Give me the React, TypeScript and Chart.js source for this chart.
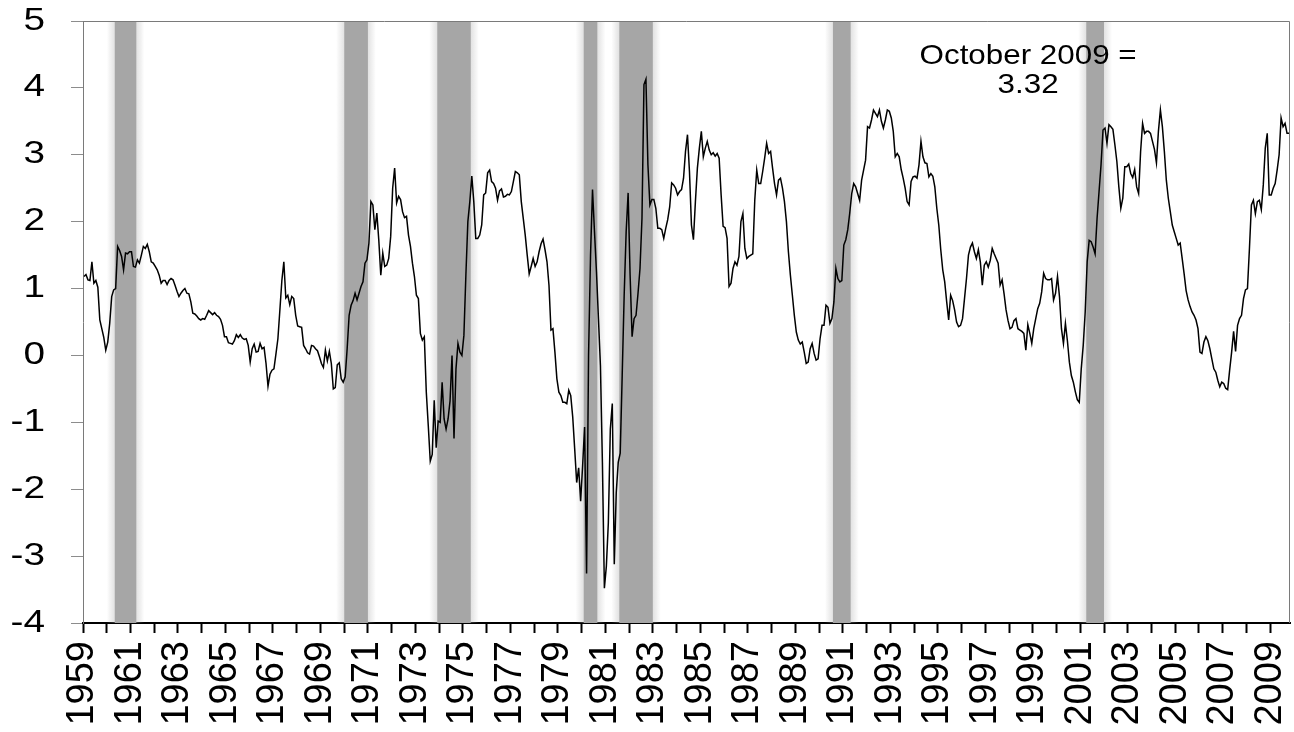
import React, { useEffect, useRef } from 'react';
import { Chart, registerables } from 'chart.js';

Chart.register(...registerables);

// ---------------- data ----------------
const FIRST_YEAR = 1959;

// Monthly spread (percentage points), Jan 1959 .. Oct 2009
const spread1959 = [1.18, 1.21, 1.13, 1.12, 1.40, 1.08, 1.12, 1.02, 0.53, 0.40, 0.27, 0.08];

const spread1960s = [
  0.20, 0.48, 0.88, 0.98, 1.00, 1.63, 1.57, 1.48, 1.28, 1.53, 1.52, 1.55, // 1960
  1.55, 1.33, 1.32, 1.43, 1.38, 1.50, 1.63, 1.60, 1.66, 1.55, 1.40, 1.38, // 1961
  1.33, 1.28, 1.20, 1.08, 1.12, 1.12, 1.06, 1.12, 1.15, 1.13, 1.05, 0.96, // 1962
  0.88, 0.93, 0.97, 1.00, 0.93, 0.92, 0.80, 0.63, 0.62, 0.59, 0.55, 0.53, // 1963
  0.55, 0.54, 0.60, 0.67, 0.64, 0.61, 0.64, 0.60, 0.58, 0.54, 0.45, 0.28, // 1964
  0.28, 0.19, 0.18, 0.17, 0.22, 0.31, 0.27, 0.31, 0.26, 0.24, 0.25, 0.15, // 1965
  -0.10, 0.10, 0.17, 0.05, 0.06, 0.18, 0.10, 0.12, -0.12, -0.46, -0.28, -0.22, // 1966
  -0.20, 0.02, 0.25, 0.68, 1.12, 1.40, 0.86, 0.90, 0.76, 0.88, 0.85, 0.60, // 1967
  0.44, 0.43, 0.42, 0.15, 0.10, 0.04, 0.02, 0.15, 0.14, 0.10, 0.07, -0.02, // 1968
  -0.12, -0.18, 0.08, -0.08, 0.06, -0.12, -0.50, -0.48, -0.14, -0.11, -0.35, -0.40, // 1969
];

const spread1970s = [
  -0.32, 0.10, 0.60, 0.75, 0.82, 0.93, 0.83, 0.93, 1.03, 1.10, 1.38, 1.43, // 1970
  1.68, 2.30, 2.25, 1.88, 2.13, 1.72, 1.20, 1.53, 1.33, 1.35, 1.45, 1.78, // 1971
  2.50, 2.80, 2.28, 2.38, 2.33, 2.15, 2.06, 2.08, 1.80, 1.63, 1.38, 1.18, // 1972
  0.90, 0.85, 0.33, 0.23, 0.28, -0.55, -1.05, -1.58, -1.48, -0.67, -1.38, -0.98, // 1973
  -1.00, -0.40, -0.95, -1.10, -0.95, -0.68, 0.00, -1.24, -0.20, 0.18, 0.05, 0.00, // 1974
  0.30, 1.20, 2.00, 2.30, 2.68, 2.30, 1.75, 1.75, 1.80, 1.95, 2.40, 2.43, // 1975
  2.73, 2.77, 2.60, 2.57, 2.50, 2.32, 2.46, 2.49, 2.37, 2.38, 2.41, 2.40, // 1976
  2.45, 2.60, 2.75, 2.73, 2.70, 2.30, 2.05, 1.80, 1.50, 1.22, 1.33, 1.45, // 1977
  1.33, 1.40, 1.55, 1.67, 1.74, 1.58, 1.40, 1.05, 0.38, 0.40, 0.05, -0.35, // 1978
  -0.55, -0.60, -0.70, -0.70, -0.72, -0.52, -0.60, -0.92, -1.40, -1.90, -1.68, -2.18, // 1979
];

const spread1980s = [
  -1.65, -1.07, -3.26, 0.00, 1.50, 2.48, 1.85, 1.25, 0.55, -0.15, -1.60, -3.48, // 1980
  -3.15, -2.50, -1.10, -0.72, -3.12, -2.05, -1.60, -1.46, -0.30, 0.90, 1.85, 2.43, // 1981
  1.20, 0.28, 0.55, 0.60, 0.93, 1.30, 2.05, 4.05, 4.13, 2.85, 2.25, 2.33, // 1982
  2.33, 2.20, 1.90, 1.90, 1.88, 1.75, 1.90, 2.03, 2.22, 2.58, 2.55, 2.50, // 1983
  2.40, 2.45, 2.48, 2.65, 3.05, 3.30, 2.75, 1.95, 1.73, 2.30, 2.80, 3.10, // 1984
  3.35, 2.97, 3.10, 3.20, 3.07, 3.00, 3.03, 2.98, 3.02, 2.95, 2.40, 1.93, // 1985
  1.91, 1.75, 1.03, 1.08, 1.30, 1.40, 1.35, 1.48, 2.00, 2.12, 1.60, 1.45, // 1986
  1.48, 1.50, 1.52, 2.32, 2.77, 2.57, 2.57, 2.75, 2.95, 3.17, 3.02, 3.05, // 1987
  2.80, 2.57, 2.40, 2.62, 2.65, 2.50, 2.30, 2.00, 1.55, 1.20, 0.90, 0.60, // 1988
  0.35, 0.23, 0.17, 0.20, 0.05, -0.12, -0.10, 0.10, 0.18, 0.03, -0.07, -0.05, // 1989
];

const spread1990s = [
  0.25, 0.45, 0.45, 0.75, 0.72, 0.48, 0.55, 0.80, 1.30, 1.15, 1.10, 1.12, // 1990
  1.65, 1.73, 1.88, 2.13, 2.42, 2.57, 2.52, 2.42, 2.32, 2.62, 2.77, 2.92, // 1991
  3.42, 3.40, 3.52, 3.67, 3.62, 3.57, 3.67, 3.50, 3.40, 3.52, 3.67, 3.65, // 1992
  3.55, 3.35, 2.97, 3.02, 2.97, 2.78, 2.65, 2.50, 2.30, 2.25, 2.60, 2.67, // 1993
  2.68, 2.65, 2.85, 3.20, 2.97, 2.88, 2.87, 2.67, 2.72, 2.68, 2.52, 2.20, // 1994
  1.95, 1.58, 1.28, 1.10, 0.80, 0.53, 0.90, 0.82, 0.68, 0.50, 0.43, 0.45, // 1995
  0.55, 0.85, 1.15, 1.50, 1.62, 1.68, 1.55, 1.45, 1.58, 1.40, 1.05, 1.35, // 1996
  1.40, 1.32, 1.42, 1.60, 1.52, 1.45, 1.38, 1.05, 1.13, 0.92, 0.68, 0.52, // 1997
  0.40, 0.42, 0.52, 0.55, 0.40, 0.38, 0.36, 0.33, 0.08, 0.46, 0.33, 0.18, // 1998
  0.40, 0.55, 0.70, 0.78, 0.95, 1.23, 1.15, 1.13, 1.13, 1.15, 0.83, 0.93, // 1999
];

const spread2000s = [
  1.18, 0.88, 0.40, 0.18, 0.48, 0.22, -0.10, -0.30, -0.40, -0.54, -0.66, -0.70, // 2000
  -0.20, 0.15, 0.65, 1.40, 1.72, 1.70, 1.62, 1.52, 2.05, 2.45, 2.85, 3.37, // 2001
  3.40, 3.17, 3.45, 3.42, 3.38, 3.15, 2.90, 2.52, 2.20, 2.35, 2.82, 2.82, // 2002
  2.86, 2.72, 2.66, 2.78, 2.52, 2.42, 3.05, 3.47, 3.32, 3.35, 3.35, 3.32, // 2003
  3.20, 3.08, 2.88, 3.35, 3.67, 3.42, 3.05, 2.62, 2.35, 2.15, 1.95, 1.85, // 2004
  1.75, 1.65, 1.68, 1.45, 1.22, 0.97, 0.83, 0.73, 0.65, 0.60, 0.53, 0.40, // 2005
  0.05, 0.03, 0.20, 0.28, 0.22, 0.10, -0.05, -0.20, -0.25, -0.37, -0.47, -0.40, // 2006
  -0.42, -0.49, -0.51, -0.22, 0.05, 0.36, 0.06, 0.45, 0.55, 0.60, 0.85, 0.98, // 2007
  1.00, 1.60, 2.25, 2.32, 2.12, 2.30, 2.32, 2.18, 2.55, 3.10, 3.32, 2.40, // 2008
  2.40, 2.50, 2.57, 2.77, 3.00, 3.55, 3.42, 3.47, 3.32, 3.32, // 2009 (Jan-Oct)
];

// NBER recessions (peak month, trough month)
const recessionPeaks = ['1960-04', '1969-12', '1973-11', '1980-01', '1981-07', '1990-07', '2001-03'];
const recessionTroughs = ['1961-02', '1970-11', '1975-03', '1980-07', '1982-11', '1991-03', '2001-11'];

// axis
const Y_MIN = -4;
const Y_MAX = 5;
const LAST_YEAR = 2009;
const tickYears = Array.from({ length: LAST_YEAR - FIRST_YEAR + 1 }, (_, i) => FIRST_YEAR + i);

// annotation
const annotationLines = ['October 2009 =', '3.32'];

// ---------------- helpers ----------------
const spread = [...spread1959, ...spread1960s, ...spread1970s, ...spread1980s, ...spread1990s, ...spread2000s];
const TOTAL_MONTHS = spread.length;

const monthIndex = (ym: string) => {
  const [y, m] = ym.split('-').map(Number);
  return (y - FIRST_YEAR) * 12 + (m - 1);
};

const FONT = '"Liberation Sans", Arial, Helvetica, sans-serif';
const Y_TICK_LEN = 12;
const Y_LABEL_PAD = 26;
const Y_LABEL_STRETCH = 1.25;

const recessionPlugin = {
  id: 'recessionBars',
  beforeDatasetsDraw(chart: any) {
    const { ctx, chartArea, scales } = chart;
    const x = scales.x;
    const top = chartArea.top;
    const h = chartArea.bottom - chartArea.top;
    ctx.save();
    ctx.beginPath();
    ctx.rect(chartArea.left, chartArea.top, chartArea.right - chartArea.left, h);
    ctx.clip();
    recessionPeaks.forEach((p, i) => {
      const x0 = x.getPixelForValue(monthIndex(p) + 1);
      const x1 = x.getPixelForValue(monthIndex(recessionTroughs[i]) + 2);
      const fade = 8;
      const gl = ctx.createLinearGradient(x0 - fade, 0, x0, 0);
      gl.addColorStop(0, 'rgba(170,170,170,0)');
      gl.addColorStop(1, 'rgba(170,170,170,0.35)');
      ctx.fillStyle = gl;
      ctx.fillRect(x0 - fade, top, fade, h);
      const gr = ctx.createLinearGradient(x1, 0, x1 + fade, 0);
      gr.addColorStop(0, 'rgba(170,170,170,0.35)');
      gr.addColorStop(1, 'rgba(170,170,170,0)');
      ctx.fillStyle = gr;
      ctx.fillRect(x1, top, fade, h);
      ctx.fillStyle = '#a6a6a6';
      ctx.fillRect(x0, top, x1 - x0, h);
    });
    ctx.restore();
  },
};

const framePlugin = {
  id: 'plotFrame',
  afterDraw(chart: any) {
    const { ctx, chartArea } = chart;
    ctx.save();
    ctx.strokeStyle = '#7a7a7a';
    ctx.lineWidth = 1;
    ctx.beginPath();
    ctx.moveTo(chartArea.left, chartArea.top + 0.5);
    ctx.lineTo(chartArea.right - 0.5, chartArea.top + 0.5);
    ctx.lineTo(chartArea.right - 0.5, chartArea.bottom);
    ctx.stroke();
    ctx.restore();
  },
};

const annotationPlugin = {
  id: 'valueNote',
  afterDatasetsDraw(chart: any) {
    const { ctx, chartArea } = chart;
    const w = chartArea.right - chartArea.left;
    const cx = chartArea.left + w * 0.783;
    ctx.save();
    ctx.fillStyle = '#000';
    ctx.font = `28px ${FONT}`;
    ctx.textAlign = 'center';
    ctx.textBaseline = 'alphabetic';
    annotationLines.forEach((line, i) => {
      ctx.save();
      ctx.translate(cx, chartArea.top + 43 + i * 29);
      ctx.scale(1.12, 1);
      ctx.fillText(line, 0, 0);
      ctx.restore();
    });
    ctx.restore();
  },
};

export default function App() {
  const canvasRef = useRef<HTMLCanvasElement>(null);

  useEffect(() => {
    document.body.style.margin = '0';
    const canvas = canvasRef.current;
    if (!canvas) return;

    const chart = new Chart(canvas, {
      type: 'line',
      data: {
        datasets: [
          {
            label: 'Spread',
            data: spread.map((v, i) => ({ x: i + 0.5, y: v })),
            borderColor: '#000000',
            borderWidth: 1.5,
            pointRadius: 0,
            tension: 0,
            fill: false,
          },
        ],
      },
      options: {
        responsive: false,
        animation: false,
        devicePixelRatio: 1,
        layout: { padding: { top: 21, right: 4, bottom: 0, left: 0 } },
        plugins: {
          legend: { display: false },
          tooltip: { enabled: false },
        },
        scales: {
          x: {
            type: 'linear',
            min: 0,
            max: TOTAL_MONTHS,
            z: 1,
            grid: {
              display: true,
              drawOnChartArea: false,
              drawTicks: true,
              tickLength: 10,
              tickColor: '#000000',
              tickWidth: 2,
            },
            border: { display: true, color: '#000000', width: 2 },
            afterBuildTicks: (scale: any) => {
              scale.ticks = tickYears.map((y) => ({ value: (y - FIRST_YEAR) * 12 }));
            },
            ticks: {
              autoSkip: false,
              maxRotation: 90,
              minRotation: 90,
              padding: 8,
              color: '#000000',
              font: { family: FONT, size: 38 },
              callback: (value: any) => {
                const yr = FIRST_YEAR + Number(value) / 12;
                return (yr - FIRST_YEAR) % 2 === 0 ? String(yr) : '';
              },
            },
            afterFit: (scale: any) => {
              scale.height = 109;
              scale.paddingLeft = 0;
              scale.paddingRight = 0;
            },
          },
          y: {
            type: 'linear',
            min: Y_MIN,
            max: Y_MAX,
            grid: {
              display: true,
              drawOnChartArea: false,
              drawTicks: true,
              tickLength: Y_TICK_LEN,
              tickColor: '#8c8c8c',
              tickWidth: 1,
            },
            border: { display: true, color: '#7a7a7a', width: 1 },
            ticks: {
              stepSize: 1,
              padding: Y_LABEL_PAD,
              color: '#000000',
              font: { family: FONT, size: 31 },
            },
            afterFit: (scale: any) => {
              scale.width = 83;
              scale.paddingTop = 0;
              scale.paddingBottom = 0;
              if (!scale.__wideLabels) {
                scale.__wideLabels = true;
                const baseDraw = scale.drawLabels;
                scale.drawLabels = function (area: any) {
                  const ctx = this.ctx;
                  const ax = this.right - Y_TICK_LEN - Y_LABEL_PAD;
                  ctx.save();
                  ctx.translate(ax, 0);
                  ctx.scale(Y_LABEL_STRETCH, 1);
                  ctx.translate(-ax, 0);
                  baseDraw.call(this, area);
                  ctx.restore();
                };
              }
            },
          },
        },
      },
      plugins: [recessionPlugin, annotationPlugin, framePlugin],
    });

    return () => chart.destroy();
  }, []);

  return (
    <div style={{ width: 1294, height: 732, background: '#ffffff' }}>
      <canvas ref={canvasRef} width={1294} height={732} />
    </div>
  );
}
